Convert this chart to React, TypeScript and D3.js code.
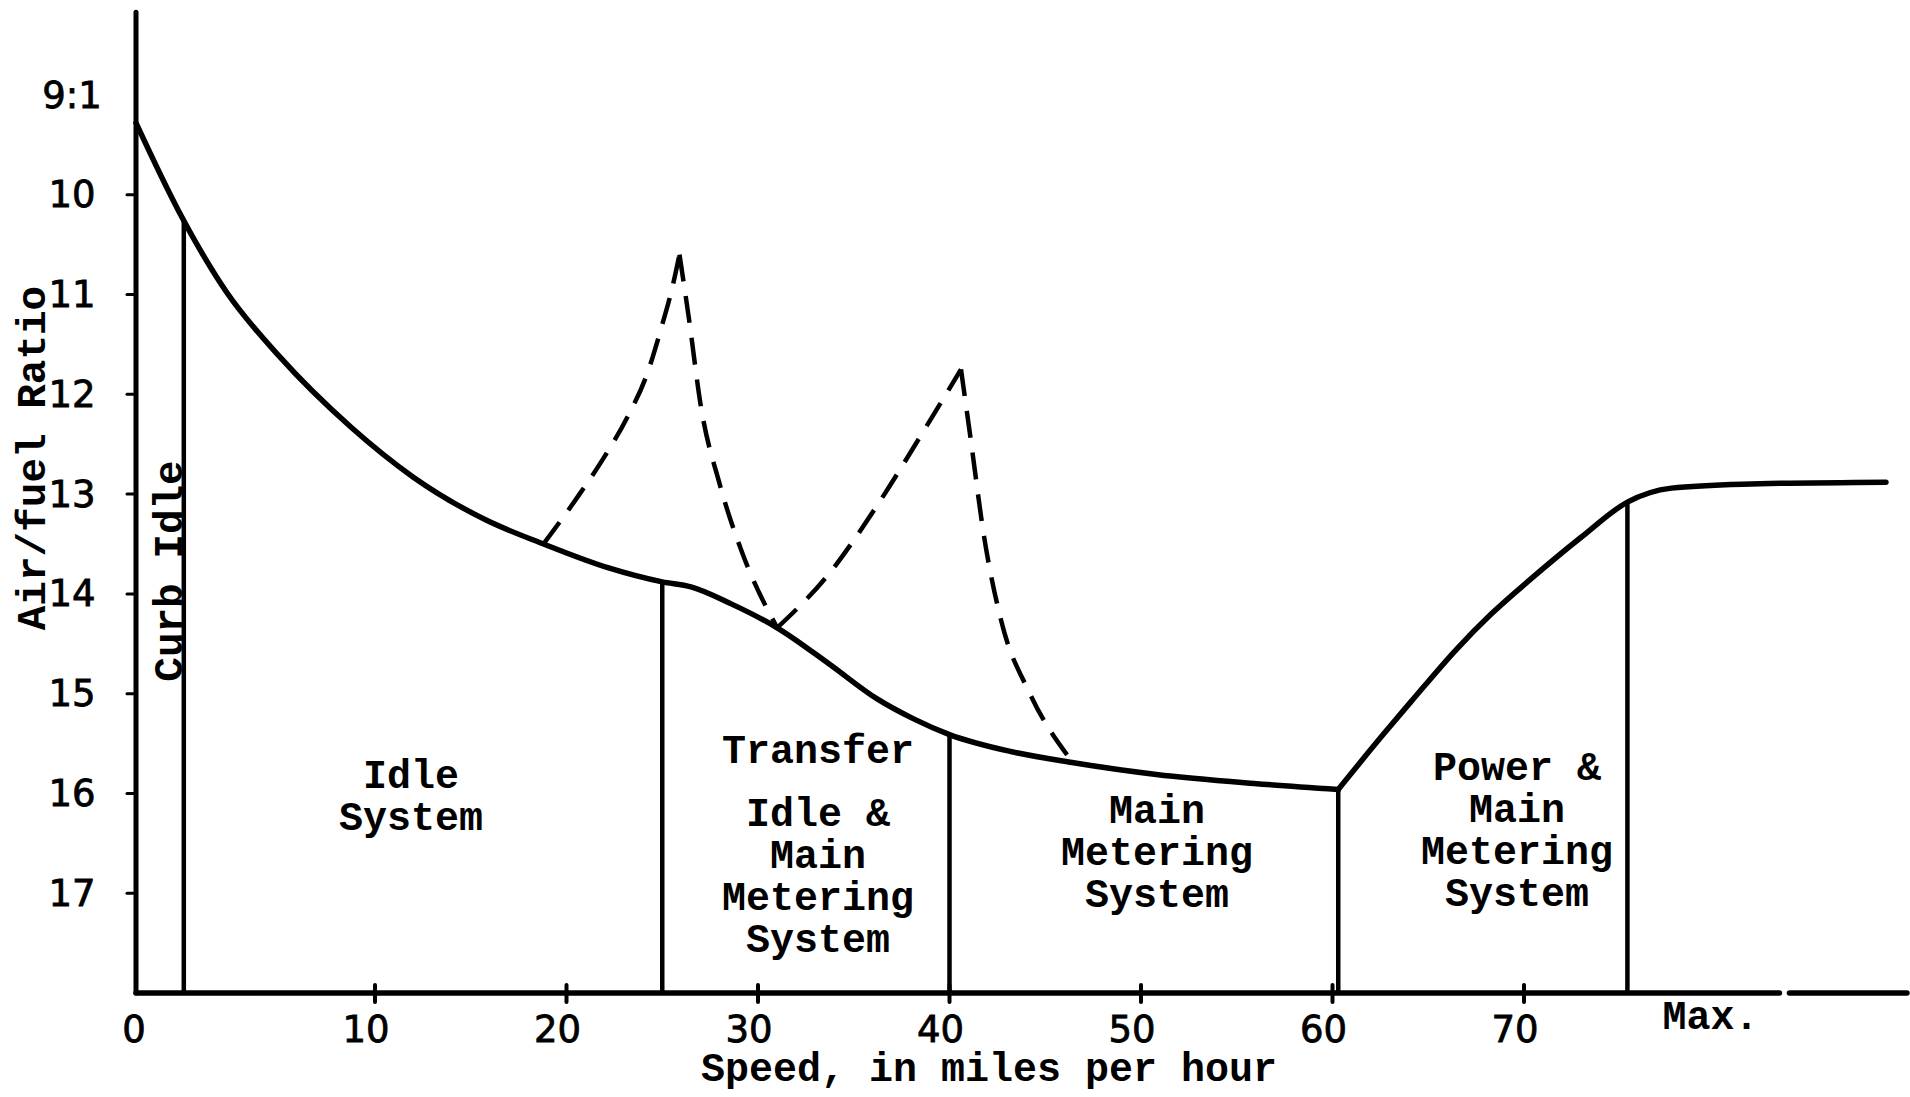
import React, { useEffect, useRef } from "react";
import * as d3 from "d3";

// speed (mph) vs air/fuel ratio
const speedTicks = [0, 10, 20, 30, 40, 50, 60, 70];
const ratioTicks = [9, 10, 11, 12, 13, 14, 15, 16, 17];
const ratioLabels = ["9:1", "10", "11", "12", "13", "14", "15", "16", "17"];

const idleCurve: [number, number][] = [
  [0, 9.28], [1.8, 10.17], [3.8, 10.98], [6, 11.62], [9, 12.33], [12, 12.83],
  [15.8, 13.26], [18.8, 13.5], [22.2, 13.74], [25, 13.88], [26.5, 13.93], [28.6, 14.1],
  [31, 14.34], [33.7, 14.7], [36.2, 15.05], [38.1, 15.25], [40, 15.41], [43.2, 15.58],
  [46.4, 15.69], [50.8, 15.81], [55.9, 15.9], [60.3, 15.96],
];
const powerCurve: [number, number][] = [
  [60.3, 15.96], [62.6, 15.42], [64.1, 15.08], [66.5, 14.55], [68.3, 14.2], [70.3, 13.86],
  [73, 13.43], [75.4, 13.08], [77.7, 12.94], [81.4, 12.9], [88.9, 12.88],
];

// dashed "lean spike" arms
const spikeArms: [number, number][][] = [
  [[18.8, 13.5], [20.5, 13.05], [22.0, 12.62], [23.2, 12.22], [24.2, 11.8], [25.0, 11.3], [25.5, 10.95], [25.9, 10.6]],
  [[25.9, 10.6], [26.4, 11.25], [27.0, 12.1], [28.0, 12.9], [29.2, 13.6], [31.0, 14.34]],
  [[31.0, 14.34], [33.7, 13.8], [36.2, 13.12], [38.8, 12.32], [40.6, 11.75]],
  [[40.6, 11.75], [41.1, 12.44], [41.8, 13.42], [42.7, 14.27], [44.2, 15.0], [46.4, 15.68]],
];

const boundarySpeeds = [2, 25, 40, 60.3, 75.4];
const maxSpeed = 80;
const axisEndSpeed = 90;
const axisBreakSpeed = 83.6;

const regionNames = [
  ["Idle", "System"],
  ["Transfer"],
  ["Idle &", "Main", "Metering", "System"],
  ["Main", "Metering", "System"],
  ["Power &", "Main", "Metering", "System"],
];
const regionPos = [
  { x: 411, y: 777 },
  { x: 818, y: 752 },
  { x: 818, y: 815 },
  { x: 1157, y: 812 },
  { x: 1517, y: 769 },
];

const ratioAt = (curve: [number, number][], s: number) => {
  const i = d3.bisector((d: [number, number]) => d[0]).left(curve, s);
  if (i <= 0) return curve[0][1];
  if (i >= curve.length) return curve[curve.length - 1][1];
  const a = curve[i - 1];
  const b = curve[i];
  const t = (s - a[0]) / (b[0] - a[0]);
  return a[1] + t * (b[1] - a[1]);
};

const App = () => {
  const ref = useRef<SVGSVGElement>(null);

  useEffect(() => {
    const width = 1910;
    const height = 1097;
    const mono = "'Liberation Mono', 'DejaVu Sans Mono', monospace";
    const sans = "'DejaVu Sans', 'Liberation Sans', sans-serif";

    const svg = d3.select(ref.current).attr("width", width).attr("height", height);
    svg.selectAll("*").remove();
    svg.append("rect").attr("width", width).attr("height", height).attr("fill", "#fff");

    // hand drawn axis: 0..10 is stretched compared with the rest
    const x = d3.scaleLinear().domain([0, 10, 70]).range([136, 375, 1524]);
    const y = d3.scaleLinear().domain([9, 18]).range([95, 993]);
    const baseY = y(18);

    const line = d3
      .line<[number, number]>()
      .x((d) => x(d[0]))
      .y((d) => y(d[1]))
      .curve(d3.curveMonotoneX);

    // === оси ===
    const axes = svg.append("g").attr("stroke", "#000").attr("stroke-linecap", "round");
    axes.append("line")
      .attr("x1", x(0)).attr("x2", x(0))
      .attr("y1", y(8.17)).attr("y2", baseY)
      .attr("stroke-width", 5);
    axes.append("line")
      .attr("x1", x(0)).attr("x2", x(axisBreakSpeed) - 5)
      .attr("y1", baseY).attr("y2", baseY)
      .attr("stroke-width", 5.5);
    axes.append("line")
      .attr("x1", x(axisBreakSpeed) + 5).attr("x2", x(axisEndSpeed))
      .attr("y1", baseY).attr("y2", baseY)
      .attr("stroke-width", 5.5);

    ratioTicks.slice(1).forEach((r) => {
      axes.append("line")
        .attr("x1", x(0) - 9).attr("x2", x(0))
        .attr("y1", y(r)).attr("y2", y(r))
        .attr("stroke-width", 3);
    });
    speedTicks.slice(1).forEach((s) => {
      axes.append("line")
        .attr("x1", x(s)).attr("x2", x(s))
        .attr("y1", baseY - 8).attr("y2", baseY + 9)
        .attr("stroke-width", 4);
    });

    // tick labels
    ratioTicks.forEach((r, i) => {
      svg.append("text")
        .attr("x", 72)
        .attr("y", y(r))
        .attr("text-anchor", "middle")
        .attr("dominant-baseline", "central")
        .attr("font-family", sans)
        .attr("font-size", 37)
        .attr("fill", "#000")
        .attr("stroke", "#000")
        .attr("stroke-width", 0.8)
        .text(ratioLabels[i]);
    });
    speedTicks.forEach((s) => {
      svg.append("text")
        .attr("x", s === 0 ? x(s) - 2 : x(s) - 9)
        .attr("y", baseY + 36)
        .attr("text-anchor", "middle")
        .attr("dominant-baseline", "central")
        .attr("font-family", sans)
        .attr("font-size", 37)
        .attr("fill", "#000")
        .attr("stroke", "#000")
        .attr("stroke-width", 0.8)
        .text(String(s));
    });
    svg.append("text")
      .attr("x", x(maxSpeed) - 5)
      .attr("y", baseY + 25)
      .attr("text-anchor", "middle")
      .attr("dominant-baseline", "central")
      .attr("font-family", mono)
      .attr("font-weight", "bold")
      .attr("font-size", 40)
      .text("Max.");

    // axis titles
    svg.append("text")
      .attr("transform", `translate(34, 458) rotate(-90)`)
      .attr("text-anchor", "middle")
      .attr("dominant-baseline", "central")
      .attr("font-family", mono)
      .attr("font-weight", "bold")
      .attr("font-size", 41)
      .text("Air/fuel Ratio");
    svg.append("text")
      .attr("x", 989)
      .attr("y", 1070)
      .attr("text-anchor", "middle")
      .attr("dominant-baseline", "central")
      .attr("font-family", mono)
      .attr("font-weight", "bold")
      .attr("font-size", 40)
      .text("Speed, in miles per hour");

    // === границы систем ===
    boundarySpeeds.forEach((s) => {
      const curve = s > 60.3 ? powerCurve : idleCurve;
      svg.append("line")
        .attr("x1", x(s)).attr("x2", x(s))
        .attr("y1", y(ratioAt(curve, s))).attr("y2", baseY)
        .attr("stroke", "#000")
        .attr("stroke-width", 4.5);
    });

    svg.append("text")
      .attr("transform", `translate(171, 571) rotate(-90)`)
      .attr("text-anchor", "middle")
      .attr("dominant-baseline", "central")
      .attr("font-family", mono)
      .attr("font-weight", "bold")
      .attr("font-size", 41)
      .text("Curb Idle");

    // === кривые ===
    [idleCurve, powerCurve].forEach((c) => {
      svg.append("path")
        .attr("d", line(c))
        .attr("fill", "none")
        .attr("stroke", "#000")
        .attr("stroke-width", 5.5)
        .attr("stroke-linejoin", "round")
        .attr("stroke-linecap", "round");
    });
    spikeArms.forEach((arm) => {
      svg.append("path")
        .attr("d", line(arm))
        .attr("fill", "none")
        .attr("stroke", "#000")
        .attr("stroke-width", 4.5)
        .attr("stroke-dasharray", "27 15");
    });

    // подписи областей
    regionNames.forEach((lines, i) => {
      const p = regionPos[i];
      lines.forEach((t, j) => {
        svg.append("text")
          .attr("x", p.x)
          .attr("y", p.y + j * 42)
          .attr("text-anchor", "middle")
          .attr("dominant-baseline", "central")
          .attr("font-family", mono)
          .attr("font-weight", "bold")
          .attr("font-size", 40)
          .text(t);
      });
    });
  }, []);

  return <svg ref={ref} style={{ position: "absolute", left: 0, top: 0, display: "block" }}></svg>;
};

export default App;
